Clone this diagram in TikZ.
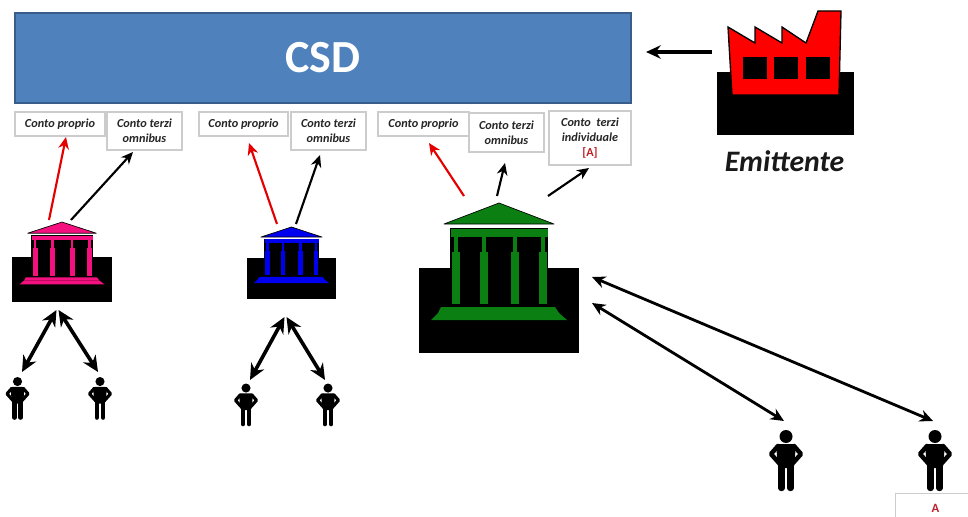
\documentclass[tikz,border=0pt]{standalone}
\usepackage{fontspec}
\setmainfont{Carlito}
\usetikzlibrary{arrows.meta}
\definecolor{csdfill}{HTML}{4F81BD}
\definecolor{csdline}{HTML}{385D8A}
\definecolor{boxline}{HTML}{CCCCCC}
\definecolor{bankpink}{HTML}{F5107F}
\definecolor{bankblue}{HTML}{0000F0}
\definecolor{bankgreen}{HTML}{0B7F12}
\definecolor{txtred}{HTML}{C0202A}
\tikzset{
  acct/.style={draw=boxline,line width=.9pt,fill=white,inner sep=0pt,align=center,
    font=\fontsize{9.2}{11}\selectfont\bfseries\itshape,text=black!85},
  thinarrow/.style={line width=1.6pt,-{Stealth[length=9pt,width=8pt]}},
  redarrow/.style={thinarrow,draw=red!90!black,-{Stealth[length=9pt,width=8pt,red!90!black]}},
  dblarrow/.style={line width=2.7pt,{Stealth[length=12pt,width=11pt]}-{Stealth[length=12pt,width=11pt]}},
  medarrow/.style={line width=2.1pt,{Stealth[length=10pt,width=9pt]}-{Stealth[length=10pt,width=9pt]}},
}
% temple on black block: bottom-centre x, bottom y, xscale, yscale, colour
\newcommand{\bankshape}[5]{%
  \begin{scope}[shift={(#1,#2)},xscale=#3,yscale=#4]
    \fill[black] (-80,-85) rectangle (80,0);
    \fill[black] (-49,-125) rectangle (49,-46);
    \filldraw[fill=#5,draw=black,line width=.5pt,line join=round] (0,-150) -- (55,-129) -- (-55,-129) -- cycle;
    \fill[#5] (-48,-124.5) rectangle (49,-116);
    \foreach \cx in {-47,-19,12,40}{
      \fill[#5] (\cx+2,-116) rectangle (\cx+6,-100);
      \fill[#5] (\cx,-101) rectangle (\cx+8,-49);
    }
    \fill[#5] (-58,-46) -- (56,-46) -- (60,-40) -- (-61,-40) -- cycle;
    \fill[#5] (-61,-40) -- (60,-40) -- (68,-33) -- (-68,-33) -- cycle;
  \end{scope}}
% standing person: centre x, top y, scale
\newcommand{\personshape}[3]{%
  \begin{scope}[shift={(#1,#2)},scale=#3]
    \fill[black] (0,6.5) circle (6.5);
    \fill[black,rounded corners=1.5pt] (-10,14) -- (10,14) -- (8,38) -- (-8,38) -- cycle;
    \draw[black,line width=3.4pt*#3,line join=round,line cap=round] (-8,16) -- (-15,24) -- (-7,33);
    \draw[black,line width=3.4pt*#3,line join=round,line cap=round] (8,16) -- (15,24) -- (7,33);
    \draw[black,line width=4.8pt*#3,line cap=round] (-4.5,34) -- (-4.5,58);
    \draw[black,line width=4.8pt*#3,line cap=round] (4.5,34) -- (4.5,58);
  \end{scope}}
\begin{document}
\begin{tikzpicture}[x=0.75pt,y=-0.75pt]
\path[use as bounding box] (0,0) rectangle (968,517);
\begin{scope}
\clip (0,0) rectangle (968,517);
\fill[white] (0,0) rectangle (968,517);

% CSD bar
\node[draw=csdline,line width=1pt,fill=csdfill,minimum width=462pt,minimum height=67.5pt,inner sep=0pt,
  text=white,font=\fontsize{34.5}{34.5}\selectfont\bfseries] (csd) at (323,58) {CSD};

% account boxes
\newcommand{\acctbox}[6]{\node[acct,minimum width=#4*0.75pt,minimum height=#5*0.75pt] (#1) at (#2,#3) {#6};}
\acctbox{p1}{60}{124}{90}{24}{\raisebox{1pt}{Conto proprio}}
\acctbox{t1}{144.5}{131}{75}{38}{Conto terzi\\omnibus}
\acctbox{p2}{243.5}{124}{89}{24}{\raisebox{1pt}{Conto proprio}}
\acctbox{t2}{328.5}{131}{75}{38}{Conto terzi\\omnibus}
\acctbox{p3}{423.5}{124}{91}{24}{\raisebox{1pt}{Conto proprio}}
\acctbox{t3}{506.5}{132.5}{75}{39}{Conto terzi\\omnibus}
\acctbox{i3}{590}{138}{82}{54}{Conto\ \ terzi\\individuale\\{\upshape\color{txtred}[A]}}
\node[draw=boxline,line width=.9pt,fill=white,minimum width=90pt,minimum height=33pt,inner sep=0pt,
  anchor=north west] (acctA) at (895,493) {};
\node[text=txtred,font=\fontsize{9.5}{11}\selectfont\bfseries,inner sep=0pt] (lblA) at (935.5,508) {A};

% factory
\fill[black] (717,72) rectangle (854,135);
\filldraw[fill=red,draw=black,line width=1pt,line join=miter]
  (728,27) -- (755,43) -- (755,27) -- (782,43) -- (782,27) -- (806,43) -- (818,11) -- (841,11) -- (839,95) -- (732,95) -- cycle;
\fill[black] (743,57) rectangle (767,79);
\fill[black] (774,57) rectangle (798,79);
\fill[black] (806,57) rectangle (830,79);
\node[inner sep=0pt,font=\fontsize{22.3}{24}\selectfont\bfseries\itshape,text=black!90] (emit) at (784.5,161) {Emittente};

% banks
\bankshape{62}{302}{.625}{.533}{bankpink}
\bankshape{291.5}{299}{.556}{.48}{bankblue}
\bankshape{499}{353}{1}{1}{bankgreen}

% people
\personshape{17.5}{377}{.7}
\personshape{100}{377}{.7}
\personshape{246}{383.5}{.7}
\personshape{328}{383.5}{.7}
\personshape{786}{430}{1}
\personshape{935}{430}{1}

% connector ends
\coordinate (fa) at (712,52);
\coordinate (fb) at (646,52);
\coordinate (r1a) at (49,220); \coordinate (r1b) at (66,137);
\coordinate (k1a) at (71,220); \coordinate (k1b) at (133,152);
\coordinate (r2a) at (277,224); \coordinate (r2b) at (249,143);
\coordinate (k2a) at (296,224); \coordinate (k2b) at (320,155);
\coordinate (r3a) at (464,196); \coordinate (r3b) at (429,143);
\coordinate (k3a) at (497,196); \coordinate (k3b) at (505,163);
\coordinate (j3a) at (548,196); \coordinate (j3b) at (589,168);
\coordinate (g1) at (592,277); \coordinate (g2) at (592,303);
\coordinate (m1) at (933,421); \coordinate (m2) at (784,421);
\coordinate (pa) at (56.5,310); \coordinate (pb) at (58.5,310);
\coordinate (pl) at (22,372); \coordinate (pr) at (98,372);
\coordinate (ba) at (284.5,317); \coordinate (bb) at (286.5,317);
\coordinate (bl) at (250,380); \coordinate (br) at (325,380);

\draw[line width=2.6pt,-{Stealth[length=11pt,width=10pt]}] (fa) -- (fb);
\draw[redarrow] (r1a) -- (r1b);
\draw[thinarrow] (k1a) -- (k1b);
\draw[redarrow] (r2a) -- (r2b);
\draw[thinarrow] (k2a) -- (k2b);
\draw[redarrow] (r3a) -- (r3b);
\draw[thinarrow] (k3a) -- (k3b);
\draw[thinarrow] (j3a) -- (j3b);
\draw[medarrow] (g1) -- (m1);
\draw[medarrow] (g2) -- (m2);
\draw[dblarrow] (pa) -- (pl);
\draw[dblarrow] (pb) -- (pr);
\draw[dblarrow] (ba) -- (bl);
\draw[dblarrow] (bb) -- (br);
\end{scope}
\end{tikzpicture}
\end{document}
